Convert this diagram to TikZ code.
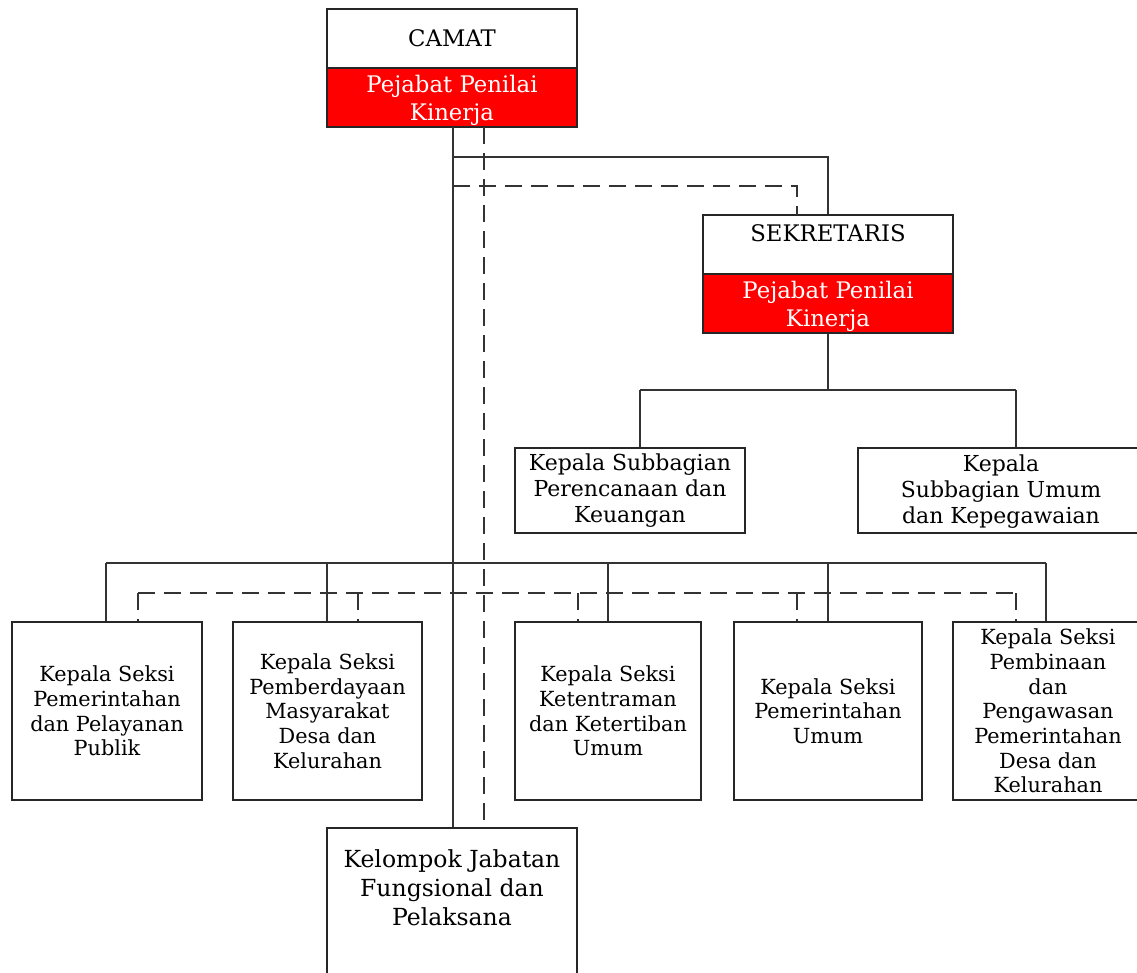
\documentclass[tikz,border=0pt]{standalone}
\usepackage{fontspec}
\setmainfont{DejaVu Serif}
\begin{document}
\begin{tikzpicture}[x=1pt,y=-1pt,
  box/.style={draw=black!85, line width=1.1pt, fill=white, rectangle, inner sep=0pt, align=center, text=black},
  redbox/.style={box, fill=red, text=white},
  plain/.style={inner sep=0pt, align=center},
  headfont/.style={font=\fontsize{22.8}{28}\selectfont},
  subfont/.style={font=\fontsize{22}{26}\selectfont},
  seksifont/.style={font=\fontsize{20.8}{24.7}\selectfont},
  link/.style={draw=black!80, line width=1.1pt},
  dlink/.style={link, dash pattern=on 17pt off 9pt}]
\useasboundingbox (0,0) rectangle (1137,972);
\clip (0,0) rectangle (1137,972);

% ---- boxes ----
\node[box, headfont, minimum width=250pt, minimum height=59pt] (camat) at (452,38.5) {CAMAT};
\node[redbox, minimum width=250pt, minimum height=59pt] (camatP) at (452,97.5) {};
\node[plain, headfont, text=white] (camatPtext) at (452,100) {Pejabat Penilai\\Kinerja};

\node[box, minimum width=250pt, minimum height=59pt] (sek) at (828,244.5) {};
\node[plain, headfont] (sektext) at (828,233) {SEKRETARIS};
\node[redbox, minimum width=250pt, minimum height=59pt] (sekP) at (828,303.5) {};
\node[plain, headfont, text=white] (sekPtext) at (828,306) {Pejabat Penilai\\Kinerja};

\node[box, subfont, minimum width=230pt, minimum height=85pt] (sub1) at (630,490.5) {Kepala Subbagian\\Perencanaan dan\\Keuangan};
\node[box, minimum width=290pt, minimum height=85pt] (sub2) at (1003,490.5) {};
\node[plain, subfont] (sub2text) at (1001,492) {Kepala\\Subbagian Umum\\dan Kepegawaian};

\node[box, seksifont, minimum width=190pt, minimum height=178pt] (b1) at (107,711) {Kepala Seksi\\Pemerintahan\\dan Pelayanan\\Publik};
\node[box, seksifont, minimum width=189pt, minimum height=178pt] (b2) at (327.5,711) {Kepala Seksi\\Pemberdayaan\\Masyarakat\\Desa dan\\Kelurahan};
\node[box, seksifont, minimum width=186pt, minimum height=178pt] (b3) at (608,711) {Kepala Seksi\\Ketentraman\\dan Ketertiban\\Umum};
\node[box, seksifont, minimum width=188pt, minimum height=178pt] (b4) at (828,711) {Kepala Seksi\\Pemerintahan\\Umum};
\node[box, seksifont, minimum width=190pt, minimum height=178pt] (b5) at (1048,711) {Kepala Seksi\\Pembinaan\\dan\\Pengawasan\\Pemerintahan\\Desa dan\\Kelurahan};

\node[box, minimum width=250pt, minimum height=170pt] (kel) at (452,913) {};
\node[plain, font=\fontsize{23.5}{29}\selectfont] (keltext) at (452,888) {Kelompok Jabatan\\Fungsional dan\\Pelaksana};

% ---- junction coordinates ----
\coordinate (s0) at (453,127);
\coordinate (ds0) at (484,127);
\coordinate (sSek) at (453,157);
\coordinate (dSek) at (453,186);
\coordinate (dSekEnd) at (797,215);
\coordinate (sSub) at (828,390);
\coordinate (sSubL) at (640,390);
\coordinate (sSubR) at (1016,390);
\coordinate (sB1) at (106,563);
\coordinate (sB2) at (327,563);
\coordinate (sB3) at (608,563);
\coordinate (sB4) at (828,563);
\coordinate (sB5) at (1046,563);
\coordinate (dB1) at (138,593);
\coordinate (dB2) at (358,593);
\coordinate (dB3) at (578,593);
\coordinate (dB4) at (797,593);
\coordinate (dB5) at (1016,593);

% ---- solid lines of command ----
\draw[link] (s0) -- (s0 |- kel.north);
\draw[link] (sSek) -| (sek.north);
\draw[link] (sekP.south) -- (sSub);
\draw[link] (sSubL) -- (sSubR);
\draw[link] (sSubL) -- (sSubL |- sub1.north);
\draw[link] (sSubR) -- (sSubR |- sub2.north);
\draw[link] (sB1) -- (sB5);
\draw[link] (sB1) -- (sB1 |- b1.north);
\draw[link] (sB2) -- (sB2 |- b2.north);
\draw[link] (sB3) -- (sB3 |- b3.north);
\draw[link] (sB4) -- (sB4 |- b4.north);
\draw[link] (sB5) -- (sB5 |- b5.north);

% ---- dashed lines of assessment ----
\draw[dlink] (ds0) -- (ds0 |- kel.north);
\draw[dlink] (dSek) -| (dSekEnd);
\draw[dlink] (dB1) -- (dB5);
\draw[dlink] (dB1) -- (dB1 |- b1.north);
\draw[dlink] (dB2) -- (dB2 |- b2.north);
\draw[dlink] (dB3) -- (dB3 |- b3.north);
\draw[dlink] (dB4) -- (dB4 |- b4.north);
\draw[dlink] (dB5) -- (dB5 |- b5.north);
\end{tikzpicture}
\end{document}
